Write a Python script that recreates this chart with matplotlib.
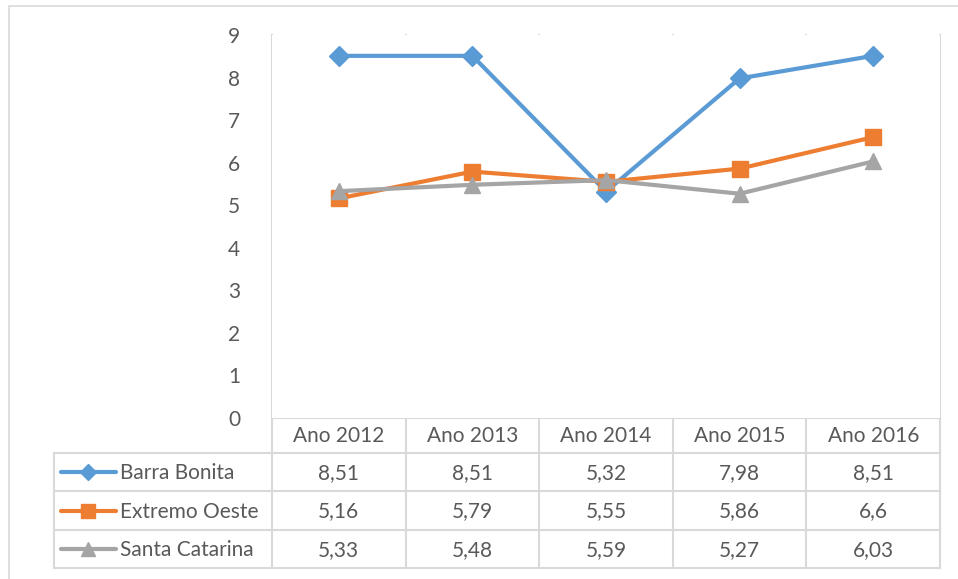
import matplotlib.pyplot as plt
from matplotlib.lines import Line2D
from matplotlib.patches import Rectangle

plt.rcParams['font.family'] = ['Lato', 'DejaVu Sans']

anos = ['Ano 2012', 'Ano 2013', 'Ano 2014', 'Ano 2015', 'Ano 2016']
barra_bonita = [8.51, 8.51, 5.32, 7.98, 8.51]
extremo_oeste = [5.16, 5.79, 5.55, 5.86, 6.6]
santa_catarina = [5.33, 5.48, 5.59, 5.27, 6.03]
series_names = ['Barra Bonita', 'Extremo Oeste', 'Santa Catarina']

colors = ['#5B9BD5', '#ED7D31', '#A5A5A5']
markers = ['D', 's', '^']
msizes = [10, 11, 12]
key_sizes = [8, 10, 10]
grid_c = '#D9D9D9'
text_c = '#595959'
fs = 15

W, H = 958, 579
fig = plt.figure(figsize=(W / 100, H / 100), dpi=100)

# pixel layout
px_left, px_right = 272, 940
px_top, px_zero = 35, 418
row_edges = [418, 453, 491, 530, 568]
tbl_left = 54


def fx(x):
    return x / W


def fy(y):
    return 1 - y / H


# outer chart border
fig.add_artist(Rectangle((fx(9), fy(600)), fx(1000), fy(6) - fy(600),
                         transform=fig.transFigure, fill=False,
                         edgecolor=grid_c, lw=1.2))

ax = fig.add_axes([fx(px_left), fy(px_zero), fx(px_right - px_left), fy(px_top) - fy(px_zero)])
ax.set_xlim(-0.5, len(anos) - 0.5)
ax.set_ylim(0, 9)
for s in ax.spines.values():
    s.set_visible(False)
ax.set_xticks([])
ax.set_yticks(range(10))
ax.tick_params(axis='y', length=0, labelsize=fs, labelcolor=text_c, pad=23)

all_series = [barra_bonita, extremo_oeste, santa_catarina]
for vals, c, m, ms in zip(all_series, colors, markers, msizes):
    ax.plot(range(len(anos)), vals, color=c, lw=3, marker=m, markersize=ms,
            markeredgecolor=c, markerfacecolor=c, solid_joinstyle='round', zorder=3)

# table axes in pixel coordinates
tax = fig.add_axes([0, 0, 1, 1], zorder=-1)
tax.set_xlim(0, W)
tax.set_ylim(H, 0)
tax.axis('off')

col_w = (px_right - px_left) / len(anos)
col_edges = [px_left + i * col_w for i in range(len(anos) + 1)]

for x in col_edges:
    tax.plot([x, x], [px_top, row_edges[-1]], color=grid_c, lw=1.5)
tax.plot([px_left, px_right], [row_edges[0], row_edges[0]], color=grid_c, lw=1.5)
for y in row_edges[1:]:
    tax.plot([tbl_left, px_right], [y, y], color=grid_c, lw=1.5)
tax.plot([tbl_left, tbl_left], [row_edges[1], row_edges[-1]], color=grid_c, lw=1.5)

for i, a in enumerate(anos):
    cx = (col_edges[i] + col_edges[i + 1]) / 2
    tax.text(cx, (row_edges[0] + row_edges[1]) / 2 + 1, a, ha='center', va='center',
             fontsize=fs, color=text_c)

for r, (name, vals) in enumerate(zip(series_names, all_series)):
    cy = (row_edges[r + 1] + row_edges[r + 2]) / 2
    tax.add_line(Line2D([61, 116], [cy, cy], color=colors[r], lw=3,
                        solid_capstyle='round'))
    tax.plot([88.5], [cy], marker=markers[r], markersize=key_sizes[r], color=colors[r])
    tax.text(120, cy + 1, name, ha='left', va='center', fontsize=fs, color=text_c)
    for i, v in enumerate(vals):
        cx = (col_edges[i] + col_edges[i + 1]) / 2
        label = f'{v:g}'.replace('.', ',')
        tax.text(cx, cy + 1, label, ha='center', va='center', fontsize=fs, color=text_c)

fig.savefig('out.png', dpi=100)
